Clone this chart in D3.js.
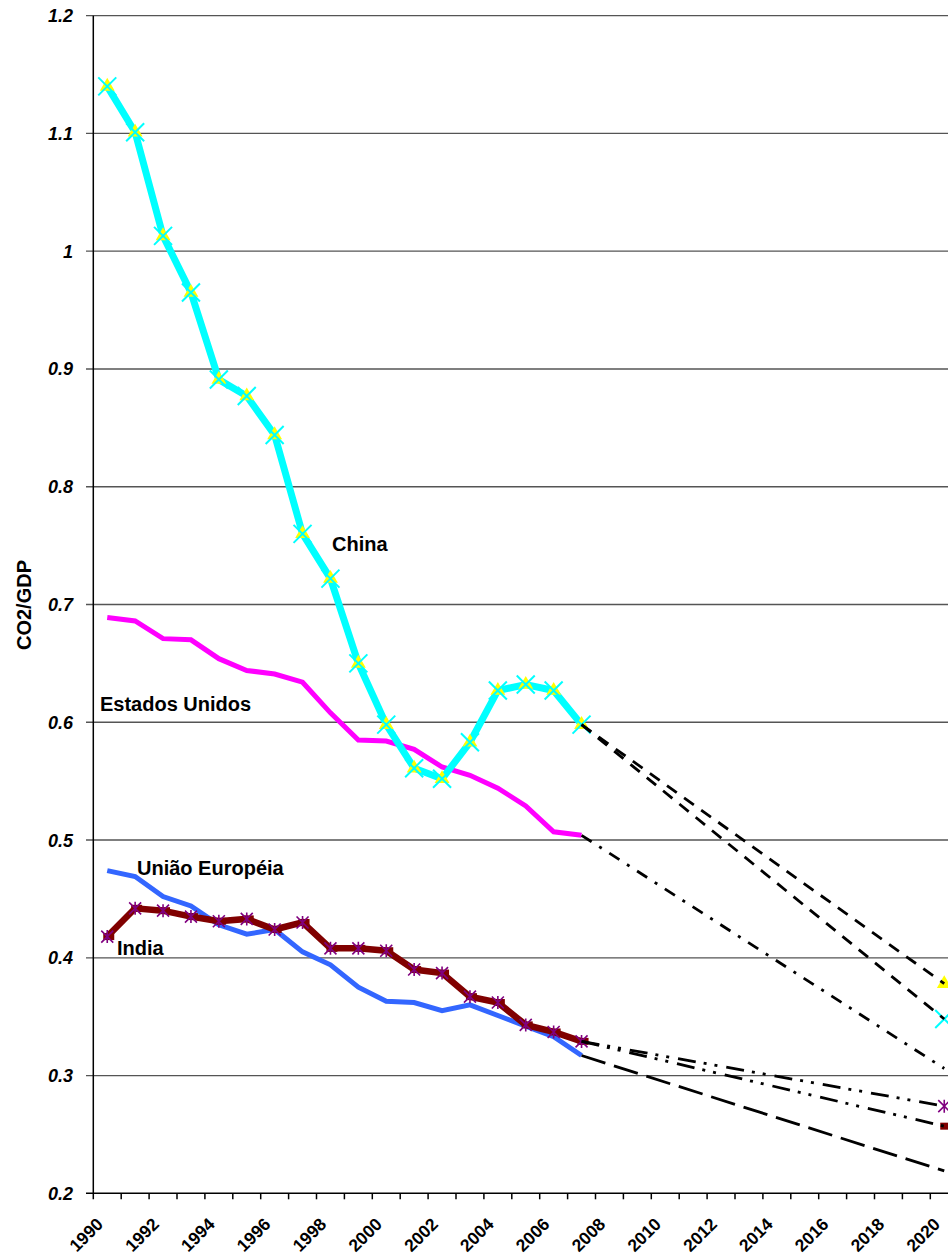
<!DOCTYPE html>
<html>
<head>
<meta charset="utf-8">
<script src="https://cdn.jsdelivr.net/npm/d3@7"></script>
<style>
  body { margin: 0; background: #fff; }
  svg { display: block; font-family: "Liberation Sans", Arial, sans-serif; }
</style>
</head>
<body>
<svg></svg>
<script>
// Categories
const years = [1990, 1991, 1992, 1993, 1994, 1995, 1996, 1997, 1998, 1999,
  2000, 2001, 2002, 2003, 2004, 2005, 2006, 2007, 2008, 2009,
  2010, 2011, 2012, 2013, 2014, 2015, 2016, 2017, 2018, 2019, 2020];
const histYears = [1990, 1991, 1992, 1993, 1994, 1995, 1996, 1997, 1998,
  1999, 2000, 2001, 2002, 2003, 2004, 2005, 2006, 2007];
const projYears = [2007, 2020];
const xTickLabels = [1990, 1992, 1994, 1996, 1998, 2000, 2002, 2004, 2006,
  2008, 2010, 2012, 2014, 2016, 2018, 2020];
const yTicks = [0.2, 0.3, 0.4, 0.5, 0.6, 0.7, 0.8, 0.9, 1, 1.1, 1.2];

// Series 1990-2007
const china = [1.140, 1.101, 1.013, 0.965, 0.891, 0.877, 0.844, 0.760, 0.722,
  0.650, 0.598, 0.561, 0.552, 0.583, 0.627, 0.632, 0.627, 0.598];
const estadosUnidos = [0.689, 0.686, 0.671, 0.670, 0.654, 0.644, 0.641, 0.634,
  0.608, 0.585, 0.584, 0.577, 0.562, 0.555, 0.544, 0.529, 0.507, 0.504];
const uniaoEuropeia = [0.474, 0.469, 0.452, 0.444, 0.428, 0.420, 0.424, 0.405,
  0.394, 0.375, 0.363, 0.362, 0.355, 0.360, 0.351, 0.342, 0.333, 0.317];
const india = [0.418, 0.442, 0.440, 0.435, 0.431, 0.433, 0.424, 0.430, 0.408,
  0.408, 0.406, 0.390, 0.387, 0.367, 0.362, 0.343, 0.337, 0.329];

// Projections 2007 -> 2020
const chinaProjA = [0.598, 0.378];
const chinaProjB = [0.598, 0.348];
const usProj = [0.504, 0.306];
const euProj = [0.317, 0.219];
const indiaProjA = [0.329, 0.274];
const indiaProjB = [0.329, 0.257];

const svg = d3.select("svg").attr("width", 948).attr("height", 1255);

// Scales
const x = d3.scaleBand().domain(years).range([93.3, 93.3 + 31 * 27.9]).padding(0);
const cx = (yr) => x(yr) + x.bandwidth() / 2;
const y = d3.scaleLinear().domain([0.2, 1.2]).range([1193.3, 15.7]);

// Gridlines
svg.append("g")
  .selectAll("line")
  .data(yTicks.slice(1))
  .enter()
  .append("line")
  .attr("x1", 86)
  .attr("x2", 960)
  .attr("y1", (d) => y(d))
  .attr("y2", (d) => y(d))
  .attr("stroke", "#555")
  .attr("stroke-width", 1.3);

// Axes
svg.append("line")
  .attr("x1", 86).attr("x2", 960)
  .attr("y1", y(0.2)).attr("y2", y(0.2))
  .attr("stroke", "#000").attr("stroke-width", 1.5);
svg.append("line")
  .attr("x1", x(1990)).attr("x2", x(1990))
  .attr("y1", y(1.2)).attr("y2", y(0.2) + 6)
  .attr("stroke", "#000").attr("stroke-width", 1.5);

// x ticks on category boundaries
svg.append("g")
  .selectAll("line")
  .data(years)
  .enter()
  .append("line")
  .attr("x1", (d) => x(d) + x.bandwidth())
  .attr("x2", (d) => x(d) + x.bandwidth())
  .attr("y1", y(0.2))
  .attr("y2", y(0.2) + 6)
  .attr("stroke", "#000")
  .attr("stroke-width", 1.5);

// y tick labels
svg.append("g")
  .selectAll("text")
  .data(yTicks)
  .enter()
  .append("text")
  .attr("x", 73)
  .attr("y", (d) => y(d))
  .attr("dy", "0.36em")
  .attr("text-anchor", "end")
  .attr("font-size", "18px")
  .attr("font-weight", "bold")
  .attr("font-style", "italic")
  .text((d) => d);

// x tick labels (rotated)
svg.append("g")
  .selectAll("text")
  .data(xTickLabels)
  .enter()
  .append("text")
  .attr("transform", (d) => `translate(${cx(d) - 3}, ${y(0.2) + 32}) rotate(-45)`)
  .attr("text-anchor", "end")
  .attr("font-size", "17.5px")
  .attr("font-weight", "bold")
  .text((d) => d);

// y title
svg.append("text")
  .attr("transform", "translate(31, 605) rotate(-90)")
  .attr("text-anchor", "middle")
  .attr("font-size", "20px")
  .attr("font-weight", "bold")
  .text("CO2/GDP");

const line = d3.line().x((d) => cx(d[0])).y((d) => y(d[1]));
const pairs = (xs, vs) => xs.map((yr, i) => [yr, vs[i]]);

function drawLine(values, xs, color, width) {
  svg.append("path")
    .datum(pairs(xs, values))
    .attr("d", line)
    .attr("fill", "none")
    .attr("stroke", color)
    .attr("stroke-width", width)
    .attr("stroke-linejoin", "miter");
}

function drawMarkers(values, xs, kind) {
  const g = svg.append("g");
  const pts = g.selectAll("g")
    .data(pairs(xs, values))
    .enter()
    .append("g")
    .attr("transform", (d) => `translate(${cx(d[0])}, ${y(d[1])})`);
  if (kind === "x") {
    pts.append("path").attr("d", "M-9,-9L9,9M-9,9L9,-9")
      .attr("stroke", "#00ffff").attr("stroke-width", 2).attr("fill", "none");
  } else if (kind === "triangle") {
    pts.append("path").attr("d", d3.symbol(d3.symbolTriangle, 95)())
      .attr("fill", "#ffff00");
  } else if (kind === "star") {
    pts.append("path").attr("d", "M0,-6.5V6.5M-6,-6L6,6M-6,6L6,-6")
      .attr("stroke", "#800080").attr("stroke-width", 1.6).attr("fill", "none");
  } else if (kind === "dash") {
    pts.append("rect").attr("x", -4).attr("y", -3.5).attr("width", 11).attr("height", 7)
      .attr("fill", "#800000");
  }
}

// Historical lines
drawLine(estadosUnidos, histYears, "#ff00ff", 5);
drawLine(uniaoEuropeia, histYears, "#3366ff", 5);
drawLine(india, histYears, "#800000", 6.5);
drawMarkers(india, histYears, "dash");
drawMarkers([indiaProjB[1]], [2020], "dash");
drawMarkers(india, histYears, "star");
drawMarkers([indiaProjA[1]], [2020], "star");
drawLine(china, histYears, "#00ffff", 7);
drawMarkers(china, histYears, "triangle");
drawMarkers([chinaProjA[1]], [2020], "triangle");
drawMarkers(china, histYears, "x");
drawMarkers([chinaProjB[1]], [2020], "x");

// Projections (black, styled)
function drawProj(values, dash) {
  svg.append("path")
    .datum(pairs(projYears, values))
    .attr("d", line)
    .attr("fill", "none")
    .attr("stroke", "#000")
    .attr("stroke-width", 2.8)
    .attr("stroke-dasharray", dash);
}
drawProj(chinaProjA, "12,9");
drawProj(chinaProjB, "12,9");
drawProj(usProj, "12,9,3,9");
drawProj(euProj, "25,9");
drawProj(indiaProjA, "18,8,3,8,3,9");
drawProj(indiaProjB, "18,8,3,8,3,9");

// Series labels
const labels = [
  { text: "China", x: 332, y: 551 },
  { text: "Estados Unidos", x: 100, y: 711 },
  { text: "União Européia", x: 137, y: 875 },
  { text: "India", x: 117, y: 955 }
];
svg.append("g")
  .selectAll("text")
  .data(labels)
  .enter()
  .append("text")
  .attr("x", (d) => d.x)
  .attr("y", (d) => d.y)
  .attr("font-size", "20px")
  .attr("font-weight", "bold")
  .text((d) => d.text);
</script>
</body>
</html>
